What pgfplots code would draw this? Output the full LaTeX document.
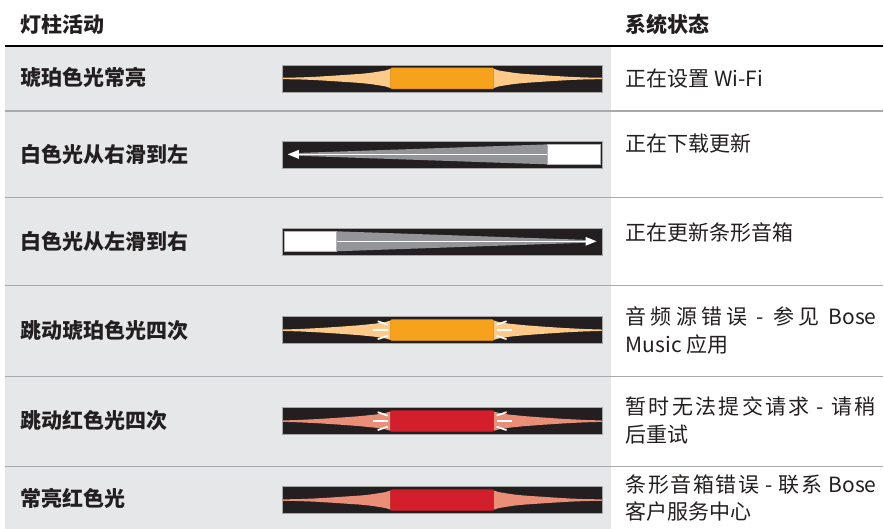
\documentclass[border=0pt]{standalone}
\usepackage{fontspec}
\setmainfont{Noto Sans CJK SC}
\usepackage{pgfplots}
\usepackage{pgfplotstable}
\pgfplotsset{compat=1.18}

\definecolor{bgGray}{HTML}{E6E7E8}
\definecolor{sepGray}{HTML}{A7A9AC}
\definecolor{barBlack}{HTML}{231F20}
\definecolor{amber}{HTML}{F7A21C}
\definecolor{amberLight}{HTML}{FDCA8A}
\definecolor{redL}{HTML}{D31F2B}
\definecolor{salmon}{HTML}{EB8E78}
\definecolor{txt}{HTML}{231F20}
\definecolor{coneGray}{HTML}{939598}

\tikzset{
  lbl/.style={anchor=west, inner sep=0pt, text=txt, font=\fontsize{21}{25}\selectfont\bfseries},
  st/.style={anchor=west, inner sep=0pt, text=txt, font=\fontsize{21}{25}\selectfont},
}

% shapes, x in px, y relative to the bar centre
\pgfplotstableread{
x y
392 -10
386 -8
380 -7
370 -5.5
360 -4.5
345 -3.5
330 -2.5
315 -1.6
300 -1
283 -0.7
283 0.7
300 1
315 1.6
330 2.5
345 3.5
360 4.5
370 5.5
380 7
386 8
392 10
}\TfanSteady

\pgfplotstableread{
x y
392 -10
385 -8
375 -6.5
360 -5
340 -3.5
320 -2.2
300 -1.2
283 -0.7
283 0.7
300 1.2
320 2.2
340 3.5
360 5
375 6.5
385 8
392 10
}\TfanBlink

\pgfplotstableread{
x y
391 -10.5
494 -10.5
494 10.5
391 10.5
}\Tblock

\pgfplotstableread{
x y
282 -13.5
603 -13.5
603 13.5
282 13.5
}\Tbar

\pgfplotstableread{
x y
548 -10
292 -1.2
292 1.2
548 10
}\Tcone

\pgfplotstableread{
x y
548 -10
601 -10
601 10
548 10
}\Twblock

\pgfplotstableread{
x y
288 0
299 -4.5
299 4.5
}\Tarrow

\newcommand{\shape}[4]{\addplot[#3] table[x expr={#4}, y expr=\thisrow{y}+#2] {#1} -- cycle;}
\newcommand{\seg}[5]{\addplot[white, line width=1.7pt] coordinates {(#1,#2+#5) (#3,#4+#5)};}

\begin{document}
\begin{tikzpicture}
\begin{axis}[
  width=884pt, height=529pt, scale only axis,
  xmin=0, xmax=884, ymin=0, ymax=529, y dir=reverse,
  axis lines=none, clip=false, no markers,
]
% page and column backgrounds
\addplot[fill=white, draw=none] coordinates {(0,0) (884,0) (884,529) (0,529)} -- cycle;
\addplot[fill=bgGray, draw=none] coordinates {(5,46) (612,46) (612,529) (5,529)} -- cycle;
% rules
\addplot[black, line width=1.5pt] coordinates {(5,46) (884,46)};
\addplot[sepGray, line width=1.2pt] coordinates {(5,111) (884,111)};
\addplot[sepGray, line width=1.2pt] coordinates {(5,198) (884,198)};
\addplot[sepGray, line width=1.2pt] coordinates {(5,286) (884,286)};
\addplot[sepGray, line width=1.2pt] coordinates {(5,377) (884,377)};
\addplot[sepGray, line width=1.2pt] coordinates {(5,467) (884,467)};

% ---- row 1: amber steady (centre 78.5)
\shape{\Tbar}{78.5}{fill=barBlack, draw=gray!70, line width=0.5pt}{\thisrow{x}}
\addplot[amberLight, line width=1pt] coordinates {(283,78.5) (602,78.5)};
\shape{\TfanSteady}{78.5}{fill=amberLight, draw=none}{\thisrow{x}}
\shape{\TfanSteady}{78.5}{fill=amberLight, draw=none}{885-\thisrow{x}}
\shape{\Tblock}{78.5}{fill=amber, draw=amber!85!black, line width=0.5pt, rounded corners=1pt}{\thisrow{x}}

% ---- row 2: white right to left (centre 154.5)
\shape{\Tbar}{154.5}{fill=barBlack, draw=gray!70, line width=0.5pt}{\thisrow{x}}
\shape{\Tcone}{154.5}{fill=coneGray, draw=none}{\thisrow{x}}
\addplot[white, line width=1.5pt] coordinates {(297,154.5) (548,154.5)};
\shape{\Tarrow}{154.5}{fill=white, draw=none}{\thisrow{x}}
\shape{\Twblock}{154.5}{fill=white, draw=gray!60, line width=0.5pt}{\thisrow{x}}

% ---- row 3: white left to right (centre 241.5)
\shape{\Tbar}{241.5}{fill=barBlack, draw=gray!70, line width=0.5pt}{\thisrow{x}}
\shape{\Tcone}{241.5}{fill=coneGray, draw=none}{885-\thisrow{x}}
\addplot[white, line width=1.5pt] coordinates {(337,241.5) (588,241.5)};
\shape{\Tarrow}{241.5}{fill=white, draw=none}{885-\thisrow{x}}
\shape{\Twblock}{241.5}{fill=white, draw=gray!60, line width=0.5pt}{885-\thisrow{x}}

% ---- row 4: amber pulse (centre 330.5)
\shape{\Tbar}{330.5}{fill=barBlack, draw=gray!70, line width=0.5pt}{\thisrow{x}}
\addplot[amberLight, line width=1pt] coordinates {(283,330.5) (602,330.5)};
\shape{\TfanBlink}{330.5}{fill=amberLight, draw=none}{\thisrow{x}}
\shape{\TfanBlink}{330.5}{fill=amberLight, draw=none}{885-\thisrow{x}}
\shape{\Tblock}{330.5}{fill=amber, draw=amber!85!black, line width=0.5pt, rounded corners=1pt}{\thisrow{x}}
\seg{373}{0}{388}{0}{330.5}
\seg{378}{-9}{388}{-5.5}{330.5}
\seg{378}{9}{388}{5.5}{330.5}
\seg{497}{0}{512}{0}{330.5}
\seg{507}{-9}{497}{-5.5}{330.5}
\seg{507}{9}{497}{5.5}{330.5}

% ---- row 5: red pulse (centre 421.5)
\shape{\Tbar}{421.5}{fill=barBlack, draw=gray!70, line width=0.5pt}{\thisrow{x}}
\addplot[salmon, line width=1pt] coordinates {(283,421.5) (602,421.5)};
\shape{\TfanBlink}{421.5}{fill=salmon, draw=none}{\thisrow{x}}
\shape{\TfanBlink}{421.5}{fill=salmon, draw=none}{885-\thisrow{x}}
\shape{\Tblock}{421.5}{fill=redL, draw=redL!85!black, line width=0.5pt, rounded corners=1pt}{\thisrow{x}}
\seg{373}{0}{388}{0}{421.5}
\seg{378}{-9}{388}{-5.5}{421.5}
\seg{378}{9}{388}{5.5}{421.5}
\seg{497}{0}{512}{0}{421.5}
\seg{507}{-9}{497}{-5.5}{421.5}
\seg{507}{9}{497}{5.5}{421.5}

% ---- row 6: red steady (centre 500.5)
\shape{\Tbar}{500.5}{fill=barBlack, draw=gray!70, line width=0.5pt}{\thisrow{x}}
\addplot[salmon, line width=1pt] coordinates {(283,500.5) (602,500.5)};
\shape{\TfanSteady}{500.5}{fill=salmon, draw=none}{\thisrow{x}}
\shape{\TfanSteady}{500.5}{fill=salmon, draw=none}{885-\thisrow{x}}
\shape{\Tblock}{500.5}{fill=redL, draw=redL!85!black, line width=0.5pt, rounded corners=1pt}{\thisrow{x}}

% ---- texts
\node[lbl] at (axis cs:20,25) {灯柱活动};
\node[lbl] at (axis cs:626,25) {系统状态};

\node[lbl] at (axis cs:20,78) {琥珀色光常亮};
\node[lbl] at (axis cs:20,155) {白色光从右滑到左};
\node[lbl] at (axis cs:20,242) {白色光从左滑到右};
\node[lbl] at (axis cs:20,331) {跳动琥珀色光四次};
\node[lbl] at (axis cs:20,421) {跳动红色光四次};
\node[lbl] at (axis cs:20,499) {常亮红色光};

\node[st] at (axis cs:626,79) {正在设置 Wi-Fi};
\node[st] at (axis cs:626,144) {正在下载更新};
\node[st] at (axis cs:626,233) {正在更新条形音箱};
\node[st] at (axis cs:626,317) {\makebox[251pt][s]{音\hfil 频\hfil 源\hfil 错\hfil 误\hfil\ -\ \hfil 参\hfil 见\hfil\ Bose}};
\node[st] at (axis cs:626,345) {Music 应用};
\node[st] at (axis cs:626,407) {\makebox[250pt][s]{暂\hfil 时\hfil 无\hfil 法\hfil 提\hfil 交\hfil 请\hfil 求\hfil\ -\ \hfil 请\hfil 稍}};
\node[st] at (axis cs:626,435) {后重试};
\node[st] at (axis cs:626,485) {\makebox[251pt][s]{条\hfil 形\hfil 音\hfil 箱\hfil 错\hfil 误\hfil\ -\ \hfil 联\hfil 系\hfil\ Bose}};
\node[st] at (axis cs:626,512) {客户服务中心};
\end{axis}
\end{tikzpicture}
\end{document}
